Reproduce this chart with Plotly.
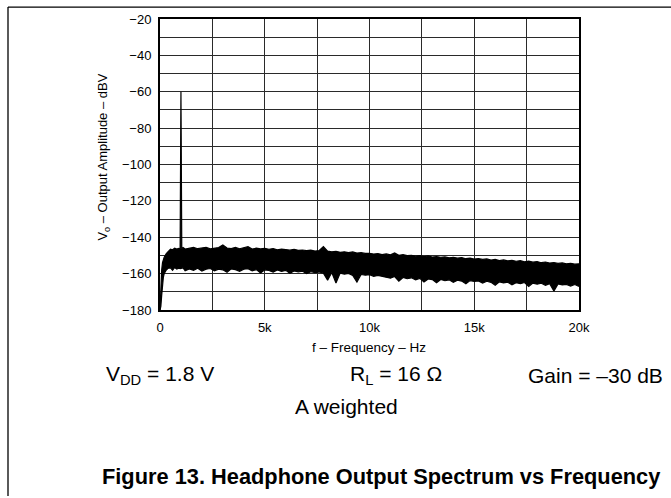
import plotly.graph_objects as go

# ---- data ----
freq_hz = [0, 40, 80, 120, 160, 200, 300, 400, 500, 600, 700, 800, 900, 960, 1000, 1040, 1100, 1200,
           1400, 1600, 1800, 2000, 2200, 2400, 2600, 2800, 3000, 3200, 3400, 3600, 3800, 4000,
           4200, 4400, 4600, 4800, 5000, 5200, 5400, 5600, 5800, 6000, 6200, 6400, 6600, 6800,
           7000, 7200, 7400, 7600, 7800, 8000, 8200, 8400, 8600, 8800, 9000, 9200, 9400, 9600,
           9800, 10000, 10200, 10400, 10600, 10800, 11000, 11200, 11400, 11600, 11800, 12000,
           12200, 12400, 12600, 12800, 13000, 13200, 13400, 13600, 13800, 14000, 14200, 14400,
           14600, 14800, 15000, 15200, 15400, 15600, 15800, 16000, 16200, 16400, 16600, 16800,
           17000, 17200, 17400, 17600, 17800, 18000, 18200, 18400, 18600, 18800, 19000, 19200,
           19400, 19600, 19800, 20000]

# upper edge of the measured spectrum (dBV), includes the 1 kHz tone
level_upper_dbv = [-180, -166, -158, -154, -152, -151, -149, -147.5, -146.6, -146.9, -146.0, -146.5, -146.1, -146.4, -60, -146.4, -145.7, -146.5,
                   -146.0, -145.6, -146.3, -146.1, -145.5, -146.4, -146.0, -145.7, -144.3, -145.9, -146.2, -145.6, -146.3, -145.8,
                   -145.2, -146.5, -146.0, -146.4, -146.1, -146.6, -146.2, -146.9, -146.5, -146.8, -147.1, -146.6, -147.2, -147.0,
                   -147.4, -147.1, -147.6, -147.3, -145.2, -147.6, -148.0, -147.7, -148.3, -148.0, -148.4, -148.1, -148.7, -148.5,
                   -148.9, -148.8, -149.2, -149.0, -149.5, -149.2, -149.7, -148.6, -149.9, -149.6, -150.1, -149.9,
                   -150.4, -150.1, -150.6, -150.3, -150.9, -150.6, -151.0, -150.8, -151.3, -151.0, -151.5, -151.2,
                   -151.8, -151.5, -152.0, -151.7, -152.2, -151.9, -152.5, -152.2, -152.8, -152.5, -153.0, -152.7,
                   -153.2, -152.9, -153.5, -153.1, -153.7, -153.4, -154.0, -153.6, -154.2, -153.9, -154.4, -154.1,
                   -154.6, -154.3, -154.8, -154.6]

# lower edge of the measured spectrum (dBV)
level_lower_dbv = [-180, -178, -172, -166, -162, -160, -158, -157, -156.8, -158.2, -156.6, -157.5, -157.0, -157.2, -157.2, -157.2, -156.8, -158.4,
                   -157.4, -158.2, -157.0, -158.6, -157.6, -157.2, -158.4, -157.5, -157.9, -159.3, -157.4, -157.8, -158.7, -157.6,
                   -157.3, -158.5, -157.8, -159.6, -157.9, -158.3, -159.2, -158.0, -158.8, -158.2, -159.8, -158.5, -159.0, -158.7,
                   -160.0, -158.9, -159.4, -159.1, -159.7, -163.6, -159.4, -165.2, -159.7, -160.3, -159.9, -161.0, -164.6, -160.4,
                   -160.9, -160.6, -161.5, -161.0, -161.4, -162.0, -162.5, -161.6, -164.2, -162.1, -162.8, -162.3,
                   -163.4, -162.6, -164.6, -162.9, -163.3, -165.0, -163.2, -163.9, -163.4, -164.8, -163.6, -164.1,
                   -165.6, -163.8, -164.3, -164.0, -165.2, -164.2, -164.8, -166.4, -164.5, -165.1, -164.7, -166.2,
                   -165.0, -165.5, -164.9, -167.0, -165.2, -165.8, -165.3, -166.4, -165.5, -169.6, -165.7, -166.2,
                   -165.9, -166.8, -166.0, -167.0]

assert len(freq_hz) == len(level_upper_dbv) == len(level_lower_dbv)

x_tick_vals = [0, 5000, 10000, 15000, 20000]
x_tick_text = ["0", "5k", "10k", "15k", "20k"]
y_tick_vals = [-20, -40, -60, -80, -100, -120, -140, -160, -180]

# ---- figure ----
W, H = 671, 498
L, R, T, B = 160, 579, 16, 310  # plot area in pixels


def px(x):
    return (x - L) / (R - L)


def py(y):
    return (B - y) / (B - T)


fig = go.Figure()
fig.add_trace(go.Scatter(x=freq_hz, y=level_upper_dbv, mode="lines",
                         line=dict(color="black", width=1.2), hoverinfo="skip"))
fig.add_trace(go.Scatter(x=freq_hz, y=level_lower_dbv, mode="lines", fill="tonexty",
                         fillcolor="black", line=dict(color="black", width=1.2), hoverinfo="skip"))

grid_color = "#2a2a2a"
fig.update_xaxes(range=[0, 20000], tickvals=x_tick_vals, ticktext=x_tick_text,
                 showgrid=True, gridcolor=grid_color, gridwidth=1,
                 minor=dict(dtick=2500, showgrid=True, gridcolor=grid_color, gridwidth=1),
                 showline=True, linecolor="black", linewidth=2, mirror=True,
                 ticks="outside", ticklen=4, tickcolor="rgba(0,0,0,0)",
                 tickfont=dict(family="Liberation Sans, Arial", size=13, color="black"),
                 zeroline=False, fixedrange=True)
fig.update_yaxes(range=[-180, -20], tickvals=y_tick_vals,
                 showgrid=True, gridcolor=grid_color, gridwidth=1,
                 minor=dict(dtick=10, showgrid=True, gridcolor=grid_color, gridwidth=1),
                 showline=True, linecolor="black", linewidth=2, mirror=True,
                 ticks="outside", ticklen=4, tickcolor="rgba(0,0,0,0)",
                 tickfont=dict(family="Liberation Sans, Arial", size=13, color="black"),
                 zeroline=False, fixedrange=True)

font_main = "Liberation Sans, Arial"
ann = [
    dict(text="V<sub>o</sub> – Output Amplitude – dBV", x=px(104), y=py(156), textangle=-90,
         xanchor="center", yanchor="middle", font=dict(size=13)),
    dict(text="f – Frequency – Hz", x=px(369), y=py(348), xanchor="center", yanchor="middle",
         font=dict(size=13.5)),
    dict(text="V<sub>DD</sub> = 1.8 V", x=px(103.6), y=py(376), xanchor="left", yanchor="middle",
         font=dict(size=21)),
    dict(text="R<sub>L</sub> = 16 Ω", x=px(347.6), y=py(376), xanchor="left", yanchor="middle",
         font=dict(size=21)),
    dict(text="Gain = –30 dB", x=px(665), y=py(376), xanchor="right", yanchor="middle",
         font=dict(size=21)),
    dict(text="A weighted", x=px(293), y=py(407), xanchor="left", yanchor="middle",
         font=dict(size=21)),
    dict(text="<b>Figure 13. Headphone Output Spectrum vs Frequency</b>", x=px(661.7), y=py(478),
         xanchor="right", yanchor="middle", font=dict(size=21.8)),
]
for a in ann:
    a.update(xref="paper", yref="paper", showarrow=False)
    a["font"].update(family=font_main, color="black")

shapes = [
    dict(type="line", xref="paper", yref="paper", x0=px(8), x1=px(671), y0=py(4), y1=py(4),
         line=dict(color="black", width=1.3)),
    dict(type="line", xref="paper", yref="paper", x0=px(8), x1=px(8), y0=py(4), y1=py(498),
         line=dict(color="black", width=1.3)),
]

fig.update_layout(width=W, height=H, autosize=False,
                  margin=dict(l=L, r=W - R, t=T, b=H - B, pad=0),
                  paper_bgcolor="white", plot_bgcolor="white",
                  showlegend=False, annotations=ann, shapes=shapes,
                  font=dict(family=font_main, color="black"), hovermode=False)

fig.write_html("out.html", config={"displayModeBar": False, "staticPlot": True},
               post_script="document.body.style.margin='0';document.body.style.overflow='hidden';")
